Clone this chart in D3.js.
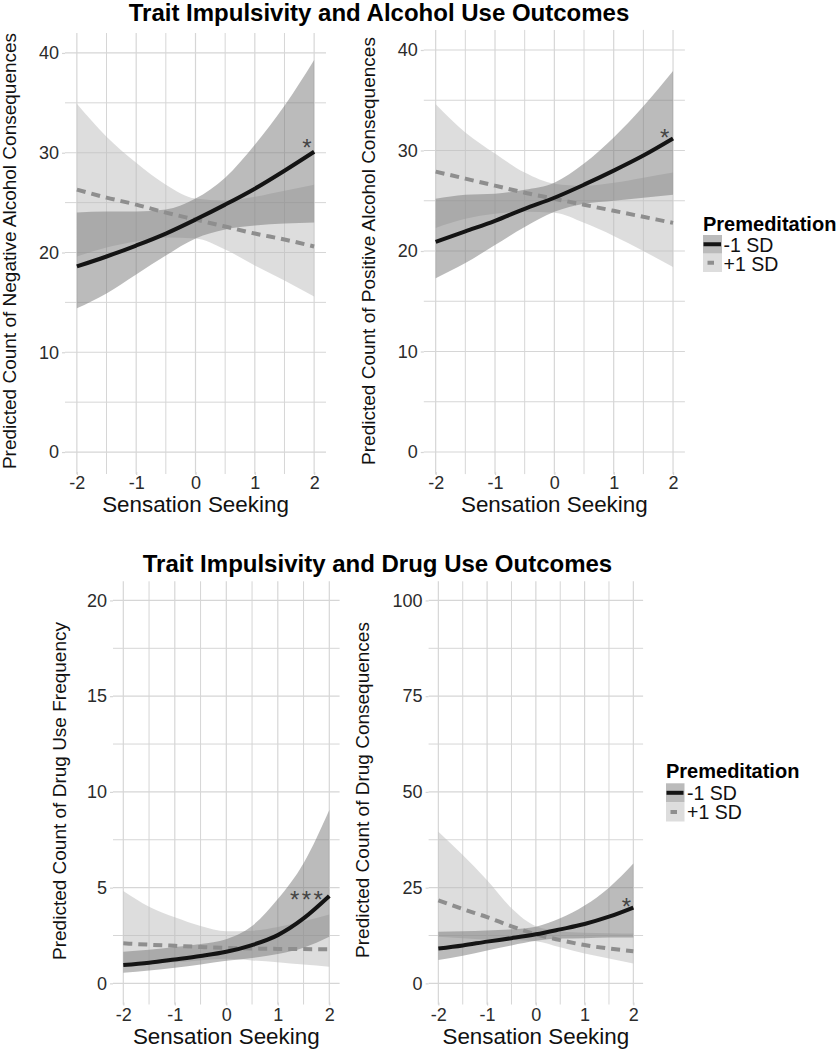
<!DOCTYPE html>
<html><head><meta charset="utf-8">
<script src="https://cdn.jsdelivr.net/npm/d3@7"></script>
<style>
body{margin:0;background:#fff}
svg{display:block}
text{font-family:"Liberation Sans",Arial,Helvetica,sans-serif}
</style>
</head><body>
<svg id="c" width="838" height="1050"></svg>
<script>
// ---------------- data ----------------
const sensationSeeking = [-2, -1.5, -1, -0.5, 0, 0.5, 1, 1.5, 2];
const xTickValues = [-2, -1, 0, 1, 2];
const xMinorValues = [-1.5, -0.5, 0.5, 1.5];
const groupLabels = ["-1 SD", "+1 SD"];
const legendTitle = "Premeditation";
const sectionTitles = ["Trait Impulsivity and Alcohol Use Outcomes", "Trait Impulsivity and Drug Use Outcomes"];
const xAxisTitle = "Sensation Seeking";
const yAxisTitles = [
  "Predicted Count of Negative Alcohol Consequences",
  "Predicted Count of Positive Alcohol Consequences",
  "Predicted Count of Drug Use Frequency",
  "Predicted Count of Drug Consequences"
];
const yTicksAlcohol = [0, 10, 20, 30, 40];
const yMinorAlcohol = [5, 15, 25, 35];
const yTicksFrequency = [0, 5, 10, 15, 20];
const yMinorFrequency = [2.5, 7.5, 12.5, 17.5];
const yTicksConsequences = [0, 25, 50, 75, 100];
const yMinorConsequences = [12.5, 37.5, 62.5, 87.5];

// Negative alcohol consequences
const negLowFit   = [18.6, 19.6, 20.7, 21.9, 23.3, 24.8, 26.4, 28.2, 30.1];
const negLowUpper = [24.0, 24.1, 24.1, 24.3, 25.4, 27.5, 30.8, 34.7, 39.3];
const negLowLower = [14.4, 15.9, 17.8, 19.7, 21.4, 22.3, 22.7, 22.9, 23.0];
const negHighFit   = [26.3, 25.5, 24.8, 24.0, 23.3, 22.6, 21.9, 21.3, 20.6];
const negHighUpper = [34.9, 31.6, 29.0, 26.8, 25.4, 25.2, 25.6, 26.2, 26.8];
const negHighLower = [19.6, 20.5, 21.1, 21.5, 21.4, 20.3, 18.7, 17.2, 15.6];

// Positive alcohol consequences
const posLowFit   = [20.9, 21.95, 23.0, 24.2, 25.3, 26.6, 28.0, 29.5, 31.2];
const posLowUpper = [25.2, 25.6, 25.7, 26.1, 26.8, 28.7, 31.3, 34.4, 37.9];
const posLowLower = [17.3, 18.8, 20.6, 22.4, 23.9, 24.7, 25.0, 25.3, 25.6];
const posHighFit   = [27.9, 27.2, 26.5, 25.8, 25.2, 24.6, 24.0, 23.4, 22.8];
const posHighUpper = [34.6, 31.8, 29.7, 27.8, 26.7, 26.5, 26.8, 27.3, 27.8];
const posHighLower = [22.3, 23.2, 23.7, 23.9, 23.8, 22.8, 21.5, 20.0, 18.4];

// Drug use frequency
const freqLowFit   = [0.96, 1.08, 1.25, 1.43, 1.65, 2.0, 2.52, 3.39, 4.56];
const freqLowUpper = [1.65, 1.75, 1.90, 2.06, 2.31, 3.0, 4.4, 6.27, 9.05];
const freqLowLower = [0.56, 0.67, 0.82, 0.99, 1.18, 1.33, 1.53, 1.86, 2.43];
const freqHighFit   = [2.09, 2.02, 1.96, 1.90, 1.85, 1.82, 1.80, 1.79, 1.78];
const freqHighUpper = [4.82, 4.0, 3.45, 3.0, 2.72, 2.75, 2.95, 3.25, 3.6];
const freqHighLower = [0.9, 1.0, 1.1, 1.2, 1.28, 1.2, 1.1, 0.98, 0.87];

// Drug consequences
const consLowFit   = [9.1, 9.9, 10.9, 11.8, 12.8, 14.1, 15.5, 17.4, 19.8];
const consLowUpper = [13.5, 13.6, 13.8, 14.1, 14.8, 17.0, 20.3, 25.0, 31.3];
const consLowLower = [6.1, 7.2, 8.6, 9.9, 11.1, 11.7, 11.8, 12.0, 12.0];
const consHighFit   = [21.7, 19.4, 17.3, 14.9, 12.8, 11.3, 10.0, 9.1, 8.4];
const consHighUpper = [39.6, 33.5, 26.9, 19.6, 14.9, 13.6, 13.2, 13.1, 13.0];
const consHighLower = [12.2, 11.8, 11.4, 11.3, 11.0, 9.4, 7.8, 6.5, 5.2];

const sigLabels = ["*", "*", "***", "*"];
const sigX = [1.88, 1.86, 1.58, 1.86];
const sigY = [31.1, 31.8, 4.67, 21.6];

// ---------------- layout ----------------
const svg = d3.select("#c");
const FONT = '"Liberation Sans",Arial,Helvetica,sans-serif';
const gridColor = "#d6d6d6";
const ribbonStyle = [
  {fill: "#777777", opacity: 0.5},
  {fill: "#bcbcbc", opacity: 0.5}
];
const lineStyle = [
  {stroke: "#141414", dash: null},
  {stroke: "#8e8e8e", dash: "9,6"}
];

const panels = [
  {xr: [65, 326], yr: [472, 33], yd: [-2, 42], ticks: yTicksAlcohol, minor: yMinorAlcohol,
   series: [[negLowFit, negLowUpper, negLowLower], [negHighFit, negHighUpper, negHighLower]],
   yTitle: yAxisTitles[0], yt: [16, 251], xTitleY: 512, tickPad: 1.5},
  {xr: [423.8, 684.9], yr: [472.1, 29.9], yd: [-2, 42], ticks: yTicksAlcohol, minor: yMinorAlcohol,
   series: [[posLowFit, posLowUpper, posLowLower], [posHighFit, posHighUpper, posHighLower]],
   yTitle: yAxisTitles[1], yt: [375, 251], xTitleY: 512, tickPad: 1.5},
  {xr: [113, 339.6], yr: [1002.5, 581.3], yd: [-1, 21], ticks: yTicksFrequency, minor: yMinorFrequency,
   series: [[freqLowFit, freqLowUpper, freqLowLower], [freqHighFit, freqHighUpper, freqHighLower]],
   yTitle: yAxisTitles[2], yt: [66, 791], xTitleY: 1044, tickPad: 2.5},
  {xr: [428.6, 643.1], yr: [1002.5, 581.3], yd: [-5, 105], ticks: yTicksConsequences, minor: yMinorConsequences,
   series: [[consLowFit, consLowUpper, consLowLower], [consHighFit, consHighUpper, consHighLower]],
   yTitle: yAxisTitles[3], yt: [369, 790], xTitleY: 1044, tickPad: 2.5}
];

panels.forEach((p, pi) => {
  const x = d3.scaleLinear().domain([-2.2, 2.2]).range(p.xr);
  const y = d3.scaleLinear().domain(p.yd).range(p.yr);
  const g = svg.append("g");

  // gridlines
  const allY = p.ticks.concat(p.minor);
  g.selectAll("line.hg").data(allY).enter().append("line")
    .attr("x1", p.xr[0]).attr("x2", p.xr[1])
    .attr("y1", d => y(d)).attr("y2", d => y(d))
    .attr("stroke", gridColor).attr("stroke-width", d => p.ticks.includes(d) ? 1.2 : 1);
  const allX = xTickValues.concat(xMinorValues);
  g.selectAll("line.vg").data(allX).enter().append("line")
    .attr("y1", p.yr[0] + 2).attr("y2", p.yr[1])
    .attr("x1", d => x(d)).attr("x2", d => x(d))
    .attr("stroke", gridColor).attr("stroke-width", d => xTickValues.includes(d) ? 1.2 : 1);

  // axes
  const yAxis = d3.axisLeft(y).tickValues(p.ticks).tickSize(3).tickPadding(3);
  const ya = g.append("g").attr("transform", `translate(${p.xr[0]},0)`).call(yAxis);
  const xAxis = d3.axisBottom(x).tickValues(xTickValues).tickSize(3).tickPadding(p.tickPad).tickFormat(d3.format("d"));
  const xa = g.append("g").attr("transform", `translate(0,${p.yr[0]})`).call(xAxis);
  [ya, xa].forEach(a => {
    a.select(".domain").remove();
    a.selectAll(".tick line").attr("stroke", gridColor).attr("stroke-width", 1.2);
    a.selectAll(".tick text").attr("fill", "#2b2b2b").style("font-size", "18px").style("font-family", FONT);
  });
  xa.selectAll(".tick text").text(d => d < 0 ? "-" + Math.abs(d) : d);

  // ribbons: +1 SD (light) first, then -1 SD (dark)
  [1, 0].forEach(gi => {
    const [fit, up, lo] = p.series[gi];
    const area = d3.area()
      .x((d, i) => x(sensationSeeking[i]))
      .y0((d, i) => y(lo[i]))
      .y1((d, i) => y(up[i]))
      .curve(d3.curveMonotoneX);
    g.append("path").datum(fit).attr("d", area)
      .attr("fill", ribbonStyle[gi].fill).attr("fill-opacity", ribbonStyle[gi].opacity);
  });
  // lines: dashed (+1 SD) under solid (-1 SD)
  [1, 0].forEach(gi => {
    const fit = p.series[gi][0];
    const line = d3.line()
      .x((d, i) => x(sensationSeeking[i]))
      .y(d => y(d))
      .curve(d3.curveMonotoneX);
    const path = g.append("path").datum(fit).attr("d", line)
      .attr("fill", "none").attr("stroke", lineStyle[gi].stroke)
      .attr("stroke-width", 4);
    if (lineStyle[gi].dash) path.attr("stroke-dasharray", lineStyle[gi].dash);
  });

  // significance marker
  g.append("text").attr("x", x(sigX[pi])).attr("y", y(sigY[pi]) + 14)
    .attr("text-anchor", "middle").attr("fill", "#444")
    .style("font-size", "24px").style("font-family", FONT)
    .style("letter-spacing", sigLabels[pi].length > 1 ? "2.5px" : "0px")
    .text(sigLabels[pi]);

  // axis titles
  g.append("text").attr("x", (x(-2) + x(2)) / 2).attr("y", p.xTitleY)
    .attr("text-anchor", "middle").attr("fill", "#111")
    .style("font-size", "22.4px").style("font-family", FONT)
    .text(xAxisTitle);
  g.append("text")
    .attr("transform", `translate(${p.yt[0]},${p.yt[1]}) rotate(-90)`)
    .attr("text-anchor", "middle").attr("fill", "#111")
    .style("font-size", "19px").style("font-family", FONT)
    .text(p.yTitle);
});

// section titles
const titlePos = [[379, 21], [377.5, 572]];
sectionTitles.forEach((t, i) => {
  svg.append("text").attr("x", titlePos[i][0]).attr("y", titlePos[i][1])
    .attr("text-anchor", "middle").attr("fill", "#000")
    .style("font-size", "24px").style("font-weight", "bold").style("font-family", FONT)
    .text(t);
});

// legends
const legends = [
  {x: 703, titleY: 230.5, keyY: [235, 253.5], w: 19, h: 18.5, labelX: 723.5, labelY: [251.7, 270.7]},
  {x: 666, titleY: 778.3, keyY: [783.3, 802.5], w: 18.5, h: 19, labelX: 687, labelY: [800, 819.3]}
];
legends.forEach(L => {
  const g = svg.append("g");
  g.append("text").attr("x", L.x).attr("y", L.titleY).attr("fill", "#000")
    .style("font-size", "20px").style("font-weight", "bold").style("font-family", FONT)
    .text(legendTitle);
  groupLabels.forEach((lab, gi) => {
    g.append("rect").attr("x", L.x).attr("y", L.keyY[gi]).attr("width", L.w).attr("height", L.h)
      .attr("fill", ribbonStyle[gi].fill).attr("fill-opacity", ribbonStyle[gi].opacity);
    const cy = L.keyY[gi] + L.h / 2;
    const seg = g.append("line").attr("stroke", lineStyle[gi].stroke).attr("stroke-width", 4)
      .attr("y1", cy).attr("y2", cy);
    if (gi === 0) {
      seg.attr("x1", L.x + 0.5).attr("x2", L.x + L.w - 1);
    } else {
      seg.attr("x1", L.x + 4.5).attr("x2", L.x + 11);
    }
    g.append("text").attr("x", L.labelX).attr("y", L.labelY[gi]).attr("fill", "#111")
      .style("font-size", "19.5px").style("font-family", FONT)
      .text(lab);
  });
});
</script>
</body></html>
